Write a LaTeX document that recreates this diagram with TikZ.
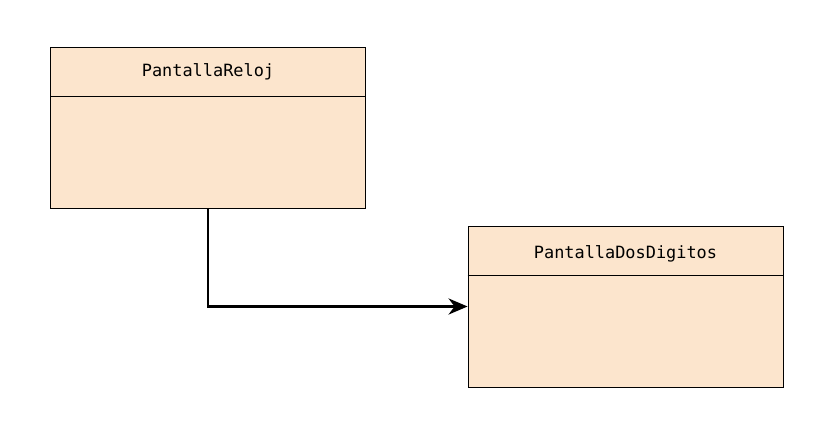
\documentclass[tikz,border=0pt]{standalone}
\usepackage{fontspec}
\setmonofont{DejaVu Sans Mono}
\usetikzlibrary{arrows.meta}
\definecolor{peach}{HTML}{FCE5CD}
\tikzset{
  classbox/.style={draw=black, fill=peach, line width=0.8pt, minimum width=315pt, minimum height=161pt, inner sep=0pt},
  classname/.style={font=\ttfamily\fontsize{16.9pt}{19pt}\selectfont, inner sep=0pt},
  assoc/.style={line width=2.8pt, -{Stealth[length=19pt, width=16pt, inset=6pt]}}
}
\begin{document}
\begin{tikzpicture}[x=1pt,y=1pt]
\useasboundingbox (0,0) rectangle (838,445);
\node[classbox] (L) at (208,317.5) {};
\draw[line width=0.8pt] (L.west |- 0,349) coordinate (Ld1) -- (L.east |- 0,349) coordinate (Ld2);
\node[classname] (Ln) at (208,373) {PantallaReloj};
\node[classbox] (R) at (625.5,138.5) {};
\draw[line width=0.8pt] (R.west |- 0,170) coordinate (Rd1) -- (R.east |- 0,170) coordinate (Rd2);
\node[classname] (Rn) at (625.5,191.5) {PantallaDosDigitos};
\draw[assoc] (L.south) |- (R.west);
\end{tikzpicture}
\end{document}
